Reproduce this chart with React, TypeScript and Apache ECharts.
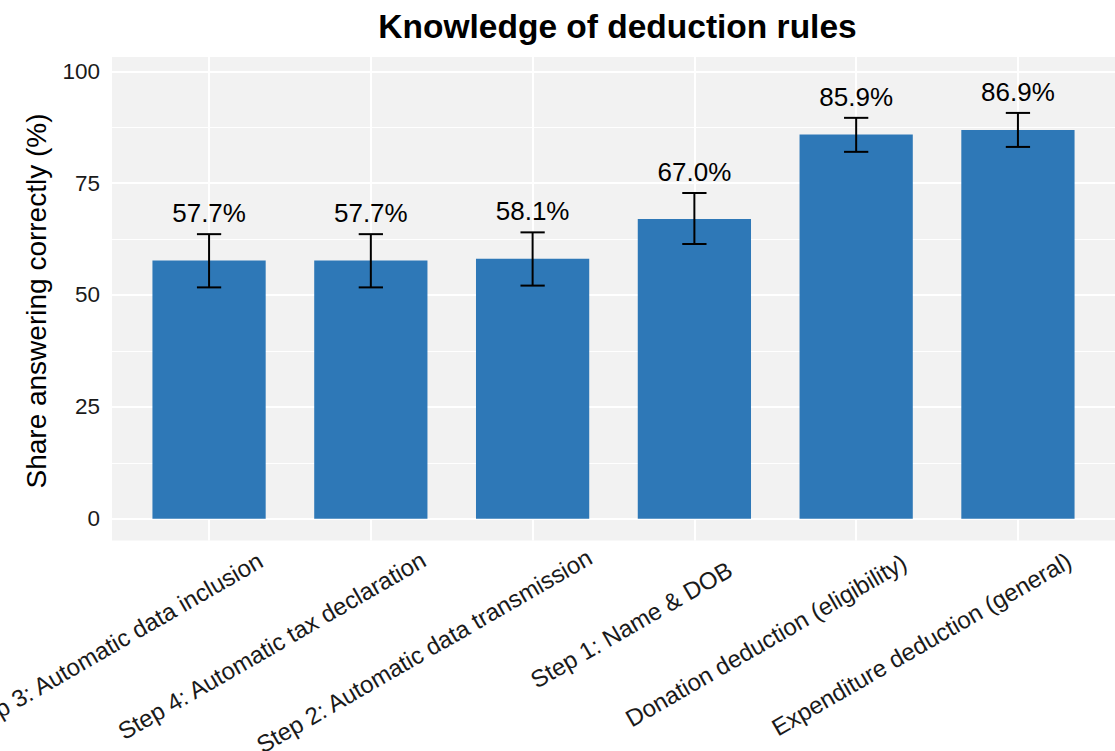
import React, { useEffect, useRef } from "react";
import * as echarts from "echarts";

const categories = [
  "Step 3: Automatic data inclusion",
  "Step 4: Automatic tax declaration",
  "Step 2: Automatic data transmission",
  "Step 1: Name & DOB",
  "Donation deduction (eligibility)",
  "Expenditure deduction (general)",
];
const shares = [57.7, 57.7, 58.1, 67.0, 85.9, 86.9];
const lowerCI = [51.7, 51.7, 52.1, 61.4, 82.0, 83.1];
const upperCI = [63.6, 63.6, 64.0, 72.8, 89.6, 90.7];
const yTicks = [0, 25, 50, 75, 100];
const yMinorTicks = [12.5, 37.5, 62.5, 87.5];

const FONT = '"Liberation Sans", Arial, Helvetica, sans-serif';
const Y_MIN = -4.9;
const Y_MAX = 103.2;
const X_MIN = 0.4;
const X_MAX = 6.6;
const Y_AXIS_FONT = 22.5;
const X_AXIS_FONT = 24;
const LABEL_HJUST = 0.84;

function measure(text: string, size: number): number {
  const c = document.createElement("canvas");
  const ctx = c.getContext("2d");
  if (!ctx) return text.length * size * 0.5;
  ctx.font = `${size}px "Liberation Sans", Arial, sans-serif`;
  return ctx.measureText(text).width;
}

export default function App() {
  const ref = useRef<HTMLDivElement>(null);

  useEffect(() => {
    if (!ref.current) return;
    const chart = echarts.init(ref.current, undefined, { renderer: "svg" });

    const xPos = categories.map((_, i) => i + 1);
    const barData = shares.map((v, i) => [xPos[i], v]);
    const errData = shares.map((v, i) => [xPos[i], lowerCI[i], upperCI[i], v]);
    const labelData = categories.map((_, i) => [xPos[i], i]);
    const labelWidths = categories.map((c) => measure(c, X_AXIS_FONT));

    const gridLines: any[] = [
      ...yMinorTicks.map((v) => ({ yAxis: v, lineStyle: { width: 1 } })),
      ...yTicks.map((v) => ({ yAxis: v, lineStyle: { width: 2 } })),
      ...xPos.map((v) => ({ xAxis: v, lineStyle: { width: 2 } })),
    ];

    const option: any = {
      animation: false,
      grid: {
        left: 112,
        top: 57,
        right: -8,
        bottom: 210.4,
        show: true,
        backgroundColor: "#f2f2f2",
        borderWidth: 0,
        containLabel: false,
      },
      xAxis: {
        type: "value",
        min: X_MIN,
        max: X_MAX,
        axisLine: { show: false },
        axisTick: { show: false },
        axisLabel: { show: false },
        splitLine: { show: false },
      },
      yAxis: {
        type: "value",
        min: Y_MIN,
        max: Y_MAX,
        axisLine: { show: false },
        axisTick: { show: false },
        splitLine: { show: false },
        axisLabel: {
          customValues: yTicks,
          fontSize: Y_AXIS_FONT,
          fontFamily: FONT,
          color: "#1a1a1a",
          margin: 12,
        },
      },
      graphic: [
        {
          type: "text",
          x: 617.5,
          y: 26.4,
          style: {
            text: "Knowledge of deduction rules",
            font: `bold 33.5px ${FONT}`,
            fill: "#000",
            align: "center",
            verticalAlign: "middle",
          },
        },
        {
          type: "text",
          x: 36.5,
          y: 301,
          rotation: Math.PI / 2,
          style: {
            text: "Share answering correctly (%)",
            font: `28px ${FONT}`,
            fill: "#000",
            align: "center",
            verticalAlign: "middle",
          },
        },
      ],
      series: [
        {
          type: "line",
          data: [],
          z: 1,
          silent: true,
          markLine: {
            z: 1,
            silent: true,
            symbol: ["none", "none"],
            label: { show: false },
            lineStyle: { color: "#ffffff", type: "solid" },
            emphasis: { disabled: true },
            data: gridLines,
          },
        },
        {
          type: "bar",
          data: barData,
          barWidth: "70%",
          z: 2,
          itemStyle: { color: "#2e78b7" },
          silent: true,
        },
        {
          type: "custom",
          z: 3,
          silent: true,
          data: errData,
          encode: { x: 0, y: [1, 2] },
          renderItem: (params: any, api: any) => {
            const x = api.value(0);
            const lo = api.value(1);
            const hi = api.value(2);
            const v = api.value(3);
            const pHi = api.coord([x, hi]);
            const pLo = api.coord([x, lo]);
            const hw = api.size([0.15, 0])[0] / 2;
            const ls = { stroke: "#000", lineWidth: 2 };
            return {
              type: "group",
              children: [
                { type: "line", shape: { x1: pHi[0], y1: pHi[1], x2: pLo[0], y2: pLo[1] }, style: ls },
                { type: "line", shape: { x1: pHi[0] - hw, y1: pHi[1], x2: pHi[0] + hw, y2: pHi[1] }, style: ls },
                { type: "line", shape: { x1: pLo[0] - hw, y1: pLo[1], x2: pLo[0] + hw, y2: pLo[1] }, style: ls },
                {
                  type: "text",
                  x: pHi[0],
                  y: pHi[1] - 21,
                  style: {
                    text: v.toFixed(1) + "%",
                    font: `26px ${FONT}`,
                    fill: "#000",
                    align: "center",
                    verticalAlign: "middle",
                  },
                },
              ],
            };
          },
        },
        {
          type: "custom",
          z: 3,
          silent: true,
          clip: false,
          data: labelData,
          encode: { x: 0 },
          renderItem: (params: any, api: any) => {
            const x = api.value(0);
            const idx = api.value(1);
            const p = api.coord([x, Y_MIN]);
            const w = labelWidths[idx];
            return {
              type: "text",
              x: p[0] - 2,
              y: p[1] + 35,
              rotation: Math.PI / 6,
              style: {
                text: categories[idx],
                x: (1 - LABEL_HJUST) * w,
                y: 0,
                font: `${X_AXIS_FONT}px ${FONT}`,
                fill: "#1a1a1a",
                align: "right",
                verticalAlign: "top",
              },
            };
          },
        },
      ],
    };

    chart.setOption(option);
    return () => chart.dispose();
  }, []);

  return (
    <div
      ref={ref}
      style={{ position: "absolute", left: 0, top: 0, width: 1115, height: 751 }}
    />
  );
}
